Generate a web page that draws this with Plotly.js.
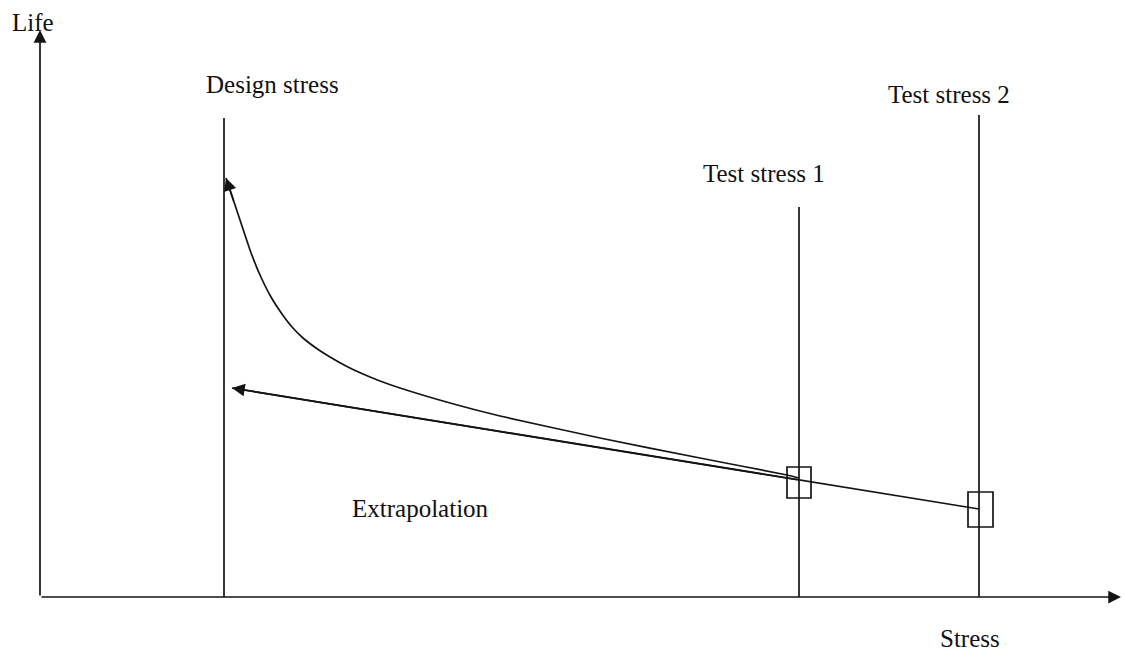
<!DOCTYPE html>
<html>
<head>
<meta charset="utf-8">
<script src="https://cdn.plot.ly/plotly-3.0.1.min.js"></script>
<style>html,body{margin:0;padding:0;background:#fff;}#chart{width:1124px;height:651px;}</style>
</head>
<body>
<div id="chart"></div>
<script>
// ---- data (stress on x, life on y; arbitrary units measured from the axes origin) ----
const stressLevels = [184, 759, 939];                 // design stress, test stress 1, test stress 2
const stressLevelTops = [479, 390, 482];              // height of each stress-level marker line
const stressLevelNames = ['Design stress', 'Test stress 1', 'Test stress 2'];
const stressLabelStress = [232, 724, 909];
const stressLabelLife = [513, 424, 503];

// true (curved) life-stress relationship, from test stress 1 back to design stress
const curveStress = [759, 747, 660, 560, 460, 410, 360, 340, 323, 306, 290, 276, 263, 252, 242, 231, 220, 210, 202, 194, 186];
const curveLife   = [119, 122, 139, 159, 181, 194, 209, 216, 223, 231, 240, 249, 259, 270, 283, 300, 322, 347, 371, 395, 419];

// straight-line extrapolation through the two test results
const extrapStress = [939, 759, 192];
const extrapLife   = [88, 117, 209];

// test result boxes (life scatter at each test stress)
const boxStressLo = [747, 928];
const boxStressHi = [771, 953];
const boxLifeLo   = [99, 70];
const boxLifeHi   = [130, 105];

// axis extents
const axisStressMax = 1081;
const axisLifeMax = 567;

const INK = '#141414';
const FONT = {family: 'Liberation Serif, Times New Roman, serif', size: 25, color: '#111'};
const LW = 1.7;

const traces = [];
stressLevels.forEach((s, i) => {
  traces.push({x: [s, s], y: [0, stressLevelTops[i]], mode: 'lines',
    line: {color: INK, width: LW}, hoverinfo: 'skip', showlegend: false});
});
traces.push({x: curveStress, y: curveLife, mode: 'lines', line: {color: INK, width: LW, shape: 'spline', smoothing: 0.5},
  hoverinfo: 'skip', showlegend: false});
traces.push({x: extrapStress, y: extrapLife, mode: 'lines', line: {color: INK, width: LW},
  hoverinfo: 'skip', showlegend: false});

const shapes = boxStressLo.map((lo, i) => ({
  type: 'rect', xref: 'x', yref: 'y', x0: lo, x1: boxStressHi[i], y0: boxLifeLo[i], y1: boxLifeHi[i],
  line: {color: INK, width: LW}, fillcolor: 'rgba(0,0,0,0)'
}));

function arrow(xTail, yTail, xTip, yTip) {
  return {x: xTip, y: yTip, ax: xTail, ay: yTail, xref: 'x', yref: 'y', axref: 'x', ayref: 'y',
    text: '', showarrow: true, arrowhead: 2, arrowsize: 1.5, arrowwidth: LW, arrowcolor: INK, standoff: 0, startstandoff: 0};
}

const annotations = [];
// axes with arrows
annotations.push(arrow(0, 0, 0, axisLifeMax));
annotations.push(arrow(0, 0, axisStressMax, 0));
// arrowheads on the curves
const n = curveStress.length;
annotations.push(arrow(curveStress[n - 2], curveLife[n - 2], curveStress[n - 1], curveLife[n - 1]));
const m = extrapStress.length;
annotations.push(arrow(extrapStress[m - 2], extrapLife[m - 2], extrapStress[m - 1], extrapLife[m - 1]));

// labels
stressLevelNames.forEach((t, i) => {
  annotations.push({x: stressLabelStress[i], y: stressLabelLife[i], xref: 'x', yref: 'y', text: t,
    showarrow: false, font: FONT, xanchor: 'center', yanchor: 'middle'});
});
annotations.push({x: -7, y: 575, xref: 'x', yref: 'y', text: 'Life', showarrow: false, font: FONT});
annotations.push({x: 930, y: -41, xref: 'x', yref: 'y', text: 'Stress', showarrow: false, font: FONT});
annotations.push({x: 380, y: 89, xref: 'x', yref: 'y', text: 'Extrapolation', showarrow: false, font: FONT});

const layout = {
  width: 1124, height: 651,
  margin: {l: 0, r: 0, t: 0, b: 0},
  paper_bgcolor: '#ffffff', plot_bgcolor: '#ffffff',
  xaxis: {range: [-40, 1084], visible: false, fixedrange: true},
  yaxis: {range: [-54, 597], visible: false, fixedrange: true},
  shapes: shapes,
  annotations: annotations,
  showlegend: false
};

Plotly.newPlot('chart', traces, layout, {displayModeBar: false, staticPlot: true});
</script>
</body>
</html>
